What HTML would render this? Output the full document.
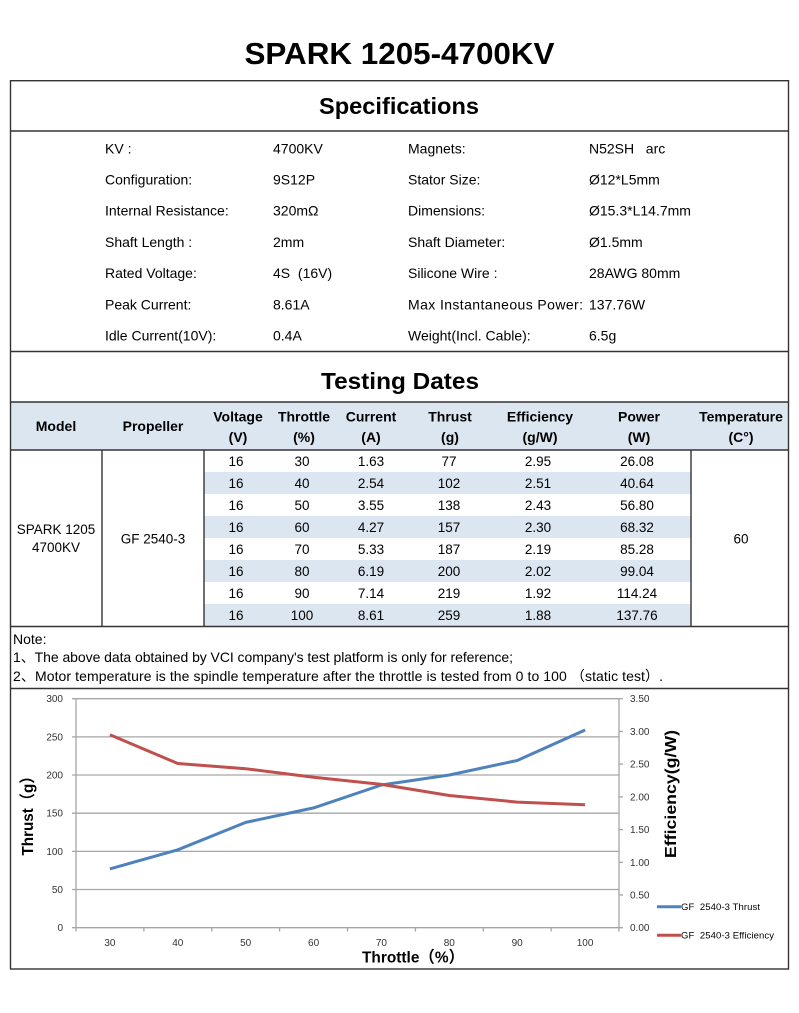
<!DOCTYPE html>
<html>
<head>
<meta charset="utf-8">
<style>
html,body{margin:0;padding:0;background:#fff;}
svg{display:block;}
text{font-family:"Liberation Sans","Noto Sans CJK SC",sans-serif;fill:#000;}
.b{font-weight:bold;}
.s{font-size:14px;}
.d{font-size:13.5px;text-anchor:middle;}
.h{font-size:14px;font-weight:bold;text-anchor:middle;}
.t{font-size:10px;fill:#333;}
</style>
</head>
<body>
<svg width="799" height="1013" viewBox="0 0 799 1013" xmlns="http://www.w3.org/2000/svg">
<rect width="799" height="1013" fill="#fff"/>
<!-- Title -->
<text x="399.5" y="64" class="b" font-size="31" text-anchor="middle" textLength="310" lengthAdjust="spacingAndGlyphs">SPARK 1205-4700KV</text>

<!-- header bg & shaded rows -->
<rect x="10.5" y="402" width="778" height="48" fill="#dce6f1"/>
<rect x="204" y="472" width="487" height="22" fill="#dce6f1"/>
<rect x="204" y="516" width="487" height="22" fill="#dce6f1"/>
<rect x="204" y="560" width="487" height="22" fill="#dce6f1"/>
<rect x="204" y="604" width="487" height="22" fill="#dce6f1"/>

<!-- outer box and lines -->
<g stroke="#333" stroke-width="1.4" fill="none">
<rect x="10.5" y="80.7" width="778" height="888.3"/>
<line x1="10.5" y1="131" x2="788.5" y2="131"/>
<line x1="10.5" y1="351.5" x2="788.5" y2="351.5"/>
<line x1="10.5" y1="402" x2="788.5" y2="402"/>
<line x1="10.5" y1="450" x2="788.5" y2="450"/>
<line x1="10.5" y1="626.5" x2="788.5" y2="626.5"/>
<line x1="10.5" y1="688.5" x2="788.5" y2="688.5"/>
<line x1="102" y1="450" x2="102" y2="626.5"/>
<line x1="204" y1="450" x2="204" y2="626.5"/>
<line x1="691" y1="450" x2="691" y2="626.5"/>
</g>

<text x="399" y="114" class="b" font-size="23" text-anchor="middle" textLength="160" lengthAdjust="spacingAndGlyphs">Specifications</text>

<!-- Spec rows -->
<g class="s">
<text x="105" y="153.3" class="s">KV :</text>
<text x="273" y="153.3" class="s">4700KV</text>
<text x="408" y="153.3" class="s">Magnets:</text>
<text x="589" y="153.3" class="s">N52SH&#160;&#160;&#160;arc</text>

<text x="105" y="184.5" class="s">Configuration:</text>
<text x="273" y="184.5" class="s">9S12P</text>
<text x="408" y="184.5" class="s">Stator Size:</text>
<text x="589" y="184.5" class="s">Ø12*L5mm</text>

<text x="105" y="215.7" class="s">Internal Resistance:</text>
<text x="273" y="215.7" class="s">320mΩ</text>
<text x="408" y="215.7" class="s">Dimensions:</text>
<text x="589" y="215.7" class="s">Ø15.3*L14.7mm</text>

<text x="105" y="246.9" class="s">Shaft Length :</text>
<text x="273" y="246.9" class="s">2mm</text>
<text x="408" y="246.9" class="s">Shaft Diameter:</text>
<text x="589" y="246.9" class="s">Ø1.5mm</text>

<text x="105" y="278.1" class="s">Rated Voltage:</text>
<text x="273" y="278.1" class="s">4S&#160;&#160;(16V)</text>
<text x="408" y="278.1" class="s">Silicone Wire :</text>
<text x="589" y="278.1" class="s">28AWG 80mm</text>

<text x="105" y="309.3" class="s">Peak Current:</text>
<text x="273" y="309.3" class="s">8.61A</text>
<text x="408" y="309.3" class="s" textLength="175" lengthAdjust="spacing">Max Instantaneous Power:</text>
<text x="589" y="309.3" class="s">137.76W</text>

<text x="105" y="340.5" class="s">Idle Current(10V):</text>
<text x="273" y="340.5" class="s">0.4A</text>
<text x="408" y="340.5" class="s">Weight(Incl. Cable):</text>
<text x="589" y="340.5" class="s">6.5g</text>
</g>

<text x="400" y="389" class="b" font-size="23" text-anchor="middle" textLength="158" lengthAdjust="spacingAndGlyphs">Testing Dates</text>

<!-- table header -->
<text x="56" y="431" class="h">Model</text>
<text x="153" y="431" class="h">Propeller</text>
<text x="238" y="421.5" class="h">Voltage</text>
<text x="238" y="442" class="h">(V)</text>
<text x="304" y="421.5" class="h">Throttle</text>
<text x="304" y="442" class="h">(%)</text>
<text x="371" y="421.5" class="h">Current</text>
<text x="371" y="442" class="h">(A)</text>
<text x="450" y="421.5" class="h">Thrust</text>
<text x="450" y="442" class="h">(g)</text>
<text x="540" y="421.5" class="h">Efficiency</text>
<text x="540" y="442" class="h">(g/W)</text>
<text x="639" y="421.5" class="h">Power</text>
<text x="639" y="442" class="h">(W)</text>
<text x="741" y="421.5" class="h">Temperature</text>
<text x="741" y="442" class="h">(C°)</text>

<!-- merged cells -->
<text x="56" y="534" class="d">SPARK 1205</text>
<text x="56" y="552" class="d">4700KV</text>
<text x="153" y="543.5" class="d">GF 2540-3</text>
<text x="741" y="543.5" class="d">60</text>

<!-- data -->
<g>
<text x="236" y="466" class="d">16</text><text x="302" y="466" class="d">30</text><text x="371" y="466" class="d">1.63</text><text x="449" y="466" class="d">77</text><text x="538" y="466" class="d">2.95</text><text x="637" y="466" class="d">26.08</text>
<text x="236" y="488" class="d">16</text><text x="302" y="488" class="d">40</text><text x="371" y="488" class="d">2.54</text><text x="449" y="488" class="d">102</text><text x="538" y="488" class="d">2.51</text><text x="637" y="488" class="d">40.64</text>
<text x="236" y="510" class="d">16</text><text x="302" y="510" class="d">50</text><text x="371" y="510" class="d">3.55</text><text x="449" y="510" class="d">138</text><text x="538" y="510" class="d">2.43</text><text x="637" y="510" class="d">56.80</text>
<text x="236" y="532" class="d">16</text><text x="302" y="532" class="d">60</text><text x="371" y="532" class="d">4.27</text><text x="449" y="532" class="d">157</text><text x="538" y="532" class="d">2.30</text><text x="637" y="532" class="d">68.32</text>
<text x="236" y="554" class="d">16</text><text x="302" y="554" class="d">70</text><text x="371" y="554" class="d">5.33</text><text x="449" y="554" class="d">187</text><text x="538" y="554" class="d">2.19</text><text x="637" y="554" class="d">85.28</text>
<text x="236" y="576" class="d">16</text><text x="302" y="576" class="d">80</text><text x="371" y="576" class="d">6.19</text><text x="449" y="576" class="d">200</text><text x="538" y="576" class="d">2.02</text><text x="637" y="576" class="d">99.04</text>
<text x="236" y="598" class="d">16</text><text x="302" y="598" class="d">90</text><text x="371" y="598" class="d">7.14</text><text x="449" y="598" class="d">219</text><text x="538" y="598" class="d">1.92</text><text x="637" y="598" class="d">114.24</text>
<text x="236" y="620" class="d">16</text><text x="302" y="620" class="d">100</text><text x="371" y="620" class="d">8.61</text><text x="449" y="620" class="d">259</text><text x="538" y="620" class="d">1.88</text><text x="637" y="620" class="d">137.76</text>
</g>

<!-- Notes -->
<text x="13" y="644" class="s">Note:</text>
<text x="13" y="662" class="s" textLength="500" lengthAdjust="spacing">1、The above data obtained by VCI company's test platform is only for reference;</text>
<text x="13" y="681" class="s" textLength="650" lengthAdjust="spacing">2、Motor temperature is the spindle temperature after the throttle is tested from 0 to 100 （static test）.</text>

<!-- Chart -->
<g stroke="#a6a6a6" stroke-width="1.3" fill="none">
<line x1="72" y1="698.7" x2="619" y2="698.7"/>
<line x1="72" y1="736.9" x2="619" y2="736.9"/>
<line x1="72" y1="775.0" x2="619" y2="775.0"/>
<line x1="72" y1="813.2" x2="619" y2="813.2"/>
<line x1="72" y1="851.4" x2="619" y2="851.4"/>
<line x1="72" y1="889.5" x2="619" y2="889.5"/>
<line x1="72" y1="927.7" x2="623" y2="927.7"/>
<line x1="76" y1="698.7" x2="76" y2="931.5"/>
<line x1="619" y1="698.7" x2="619" y2="931.5"/>
<line x1="619" y1="895.0" x2="623" y2="895.0"/>
<line x1="619" y1="862.3" x2="623" y2="862.3"/>
<line x1="619" y1="829.6" x2="623" y2="829.6"/>
<line x1="619" y1="796.9" x2="623" y2="796.9"/>
<line x1="619" y1="764.1" x2="623" y2="764.1"/>
<line x1="619" y1="731.4" x2="623" y2="731.4"/>
<line x1="619" y1="698.7" x2="623" y2="698.7"/>
<line x1="143.9" y1="927.7" x2="143.9" y2="931.5"/>
<line x1="211.8" y1="927.7" x2="211.8" y2="931.5"/>
<line x1="279.6" y1="927.7" x2="279.6" y2="931.5"/>
<line x1="347.5" y1="927.7" x2="347.5" y2="931.5"/>
<line x1="415.4" y1="927.7" x2="415.4" y2="931.5"/>
<line x1="483.3" y1="927.7" x2="483.3" y2="931.5"/>
<line x1="551.1" y1="927.7" x2="551.1" y2="931.5"/>
</g>

<g>
<text x="63" y="702.2" class="t" text-anchor="end">300</text>
<text x="63" y="740.4" class="t" text-anchor="end">250</text>
<text x="63" y="778.5" class="t" text-anchor="end">200</text>
<text x="63" y="816.7" class="t" text-anchor="end">150</text>
<text x="63" y="854.9" class="t" text-anchor="end">100</text>
<text x="63" y="893.0" class="t" text-anchor="end">50</text>
<text x="63" y="931.2" class="t" text-anchor="end">0</text>
</g>
<g>
<text x="630" y="702.2" class="t">3.50</text>
<text x="630" y="734.9" class="t">3.00</text>
<text x="630" y="767.6" class="t">2.50</text>
<text x="630" y="800.4" class="t">2.00</text>
<text x="630" y="833.1" class="t">1.50</text>
<text x="630" y="865.8" class="t">1.00</text>
<text x="630" y="898.5" class="t">0.50</text>
<text x="630" y="931.2" class="t">0.00</text>
</g>
<g>
<text x="109.9" y="946" class="t" text-anchor="middle">30</text>
<text x="177.8" y="946" class="t" text-anchor="middle">40</text>
<text x="245.7" y="946" class="t" text-anchor="middle">50</text>
<text x="313.6" y="946" class="t" text-anchor="middle">60</text>
<text x="381.4" y="946" class="t" text-anchor="middle">70</text>
<text x="449.3" y="946" class="t" text-anchor="middle">80</text>
<text x="517.2" y="946" class="t" text-anchor="middle">90</text>
<text x="585.1" y="946" class="t" text-anchor="middle">100</text>
</g>

<polyline fill="none" stroke="#4f81bd" stroke-width="3" stroke-linejoin="round" points="109.9,868.9 177.8,849.8 245.7,822.4 313.6,807.9 381.4,785.0 449.3,775.0 517.2,760.5 585.1,730.0"/>
<polyline fill="none" stroke="#c0504d" stroke-width="3" stroke-linejoin="round" points="109.9,734.7 177.8,763.5 245.7,768.7 313.6,777.2 381.4,784.4 449.3,795.5 517.2,802.1 585.1,804.7"/>

<!-- axis titles -->
<text x="413" y="962.7" class="b" font-size="16" text-anchor="middle" textLength="102" lengthAdjust="spacingAndGlyphs">Throttle（%）</text>
<text transform="translate(33,812) rotate(-90)" class="b" font-size="16" text-anchor="middle" textLength="87" lengthAdjust="spacingAndGlyphs">Thrust（g）</text>
<text transform="translate(676,794) rotate(-90)" class="b" font-size="16" text-anchor="middle" textLength="128" lengthAdjust="spacingAndGlyphs">Efficiency(g/W)</text>

<!-- legend -->
<line x1="657" y1="906.7" x2="681" y2="906.7" stroke="#4f81bd" stroke-width="3"/>
<text x="681" y="910" font-size="9.5" fill="#333" textLength="79" lengthAdjust="spacing">GF&#160;&#160;2540-3 Thrust</text>
<line x1="657" y1="935.3" x2="681" y2="935.3" stroke="#c0504d" stroke-width="3"/>
<text x="681" y="938.6" font-size="9.5" fill="#333" textLength="93" lengthAdjust="spacing">GF&#160;&#160;2540-3 Efficiency</text>
</svg>
</body>
</html>
